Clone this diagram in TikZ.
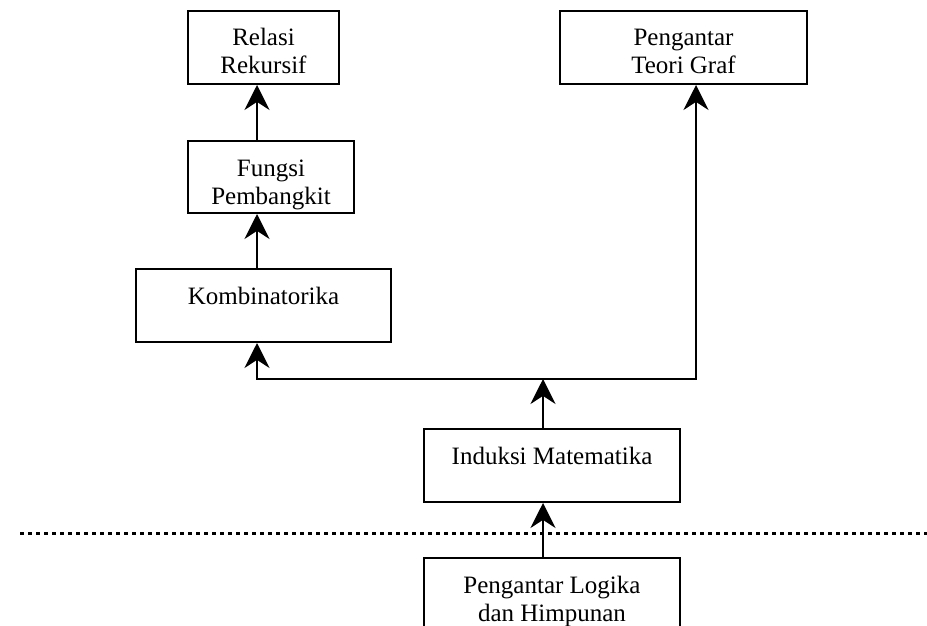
\documentclass[tikz,border=0pt]{standalone}
\usepackage{fontspec}
\setmainfont{Liberation Serif}
\usetikzlibrary{arrows.meta,positioning,calc}
\tikzset{
	topic/.style={draw, line width=2pt, inner sep=0pt, anchor=north west, text height=35pt, text depth=38pt, font=\fontsize{25}{28}\selectfont},
	flow/.style={-{Stealth[width=25pt,length=25pt]}, line width=2pt},
	layer/.style={line width=3pt, dash pattern=on 4pt off 4pt}
}
\newcommand{\twolines}[2]{\begin{tabular}[t]{@{}c@{}}#1\\#2\end{tabular}}
\begin{document}
\begin{tikzpicture}[x=1pt,y=-1pt]
	\path[use as bounding box, clip] (0,0) rectangle (927,626);
	%%%% left column
	\node[topic, minimum width=151pt] (relasi) at (187,10) {\twolines{Relasi}{Rekursif}};
	\node[topic, minimum width=166pt, text depth=37pt] (fungsi) at (187,140) {\twolines{Fungsi}{Pembangkit}};
	\node[topic, minimum width=255pt] (kombi) at (135,268) {Kombinatorika};
	%%%% right column
	\node[topic, minimum width=247pt] (graf) at (559,10) {\twolines{Pengantar}{Teori Graf}};
	%%%% base
	\node[topic, minimum width=256pt] (induksi) at (423,428) {Induksi Matematika};
	\node[topic, minimum width=256pt] (logika) at (423,557) {\twolines{Pengantar Logika}{dan Himpunan}};
	
	\coordinate (lcol) at (257,0);
	\coordinate (rcol) at (696,0);
	\coordinate (split) at (543,379);
	\coordinate (sepL) at (20,533);
	\coordinate (sepR) at (927,533);
	
	\draw[layer] (sepL) -- (sepR);
	
	\draw[flow] (fungsi.north -| lcol) -- (relasi.south -| lcol);
	\draw[flow] (kombi.north -| lcol) -- (fungsi.south -| lcol);
	\draw[flow] (logika.north -| split) -- (induksi.south -| split);
	\draw[flow] (induksi.north -| split) -- (split);
	\draw[flow] (split) -| (kombi.south -| lcol);
	\draw[flow] (split) -| (graf.south -| rcol);
\end{tikzpicture}
\end{document}
